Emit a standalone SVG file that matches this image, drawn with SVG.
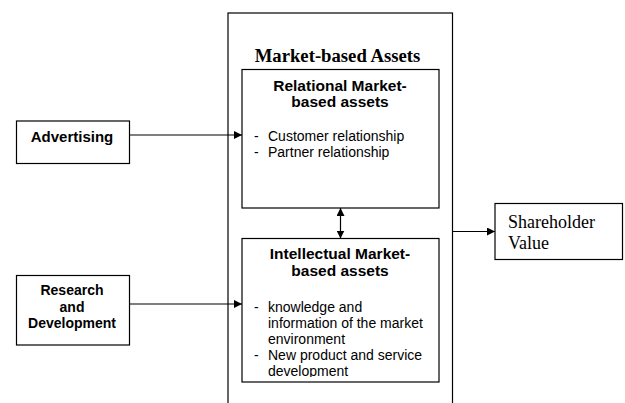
<svg xmlns="http://www.w3.org/2000/svg" width="625" height="403" viewBox="0 0 625 403">
<style>
.box{fill:#fff;stroke:#000;stroke-width:1.2}
.line{fill:none;stroke:#000;stroke-width:1.2}
.hd{font-family:"Liberation Sans",Arial,sans-serif;font-weight:bold;text-anchor:middle;fill:#000}
.tx{font-family:"Liberation Sans",Arial,sans-serif;font-size:14px;fill:#000}
.sr{font-family:"Liberation Serif","Times New Roman",serif;fill:#000}
</style>
<defs>
<marker id="ah" viewBox="0 0 10 10" refX="10" refY="5" markerWidth="8" markerHeight="8" markerUnits="userSpaceOnUse" orient="auto-start-reverse">
<path d="M0,0 L10,5 L0,10 z" fill="#000"/>
</marker>
<clipPath id="clipI"><rect x="242" y="238" width="197" height="139"/></clipPath>
</defs>
<rect width="625" height="403" fill="#fff"/>
<g id="market-based-assets">
<rect class="box" x="228" y="13" width="224.5" height="400"/>
<text class="sr" x="337.5" y="61.5" font-size="18.7" font-weight="bold" text-anchor="middle">Market-based Assets</text>
</g>
<g id="relational">
<rect class="box" x="242" y="69.5" width="197" height="138.5"/>
<text class="hd" font-size="15.5" x="340" y="91">Relational Market-</text>
<text class="hd" font-size="15.5" x="340" y="107">based assets</text>
<text class="tx" x="254" y="141">-</text>
<text class="tx" x="268" y="141">Customer relationship</text>
<text class="tx" x="254" y="157">-</text>
<text class="tx" x="268" y="157">Partner relationship</text>
</g>
<g id="intellectual">
<rect class="box" x="242" y="238.5" width="197" height="143.5"/>
<text class="hd" font-size="15.5" x="340" y="259">Intellectual Market-</text>
<text class="hd" font-size="15.5" x="340" y="276">based assets</text>
<g clip-path="url(#clipI)">
<text class="tx" x="254" y="312">-</text>
<text class="tx" x="268" y="312">knowledge and</text>
<text class="tx" x="268" y="328">information of the market</text>
<text class="tx" x="268" y="344">environment</text>
<text class="tx" x="254" y="360">-</text>
<text class="tx" x="268" y="360">New product and service</text>
<text class="tx" x="268" y="376">development</text>
</g>
</g>
<g id="advertising">
<rect class="box" x="16.5" y="121" width="113" height="42.5"/>
<text class="hd" font-size="15" x="72" y="141.5">Advertising</text>
</g>
<g id="research">
<rect class="box" x="16.5" y="275.5" width="113" height="69.5"/>
<text class="hd" font-size="14" x="72" y="295">Research</text>
<text class="hd" font-size="14" x="72" y="311.5">and</text>
<text class="hd" font-size="14" x="72" y="328">Development</text>
</g>
<g id="shareholder">
<rect class="box" x="495" y="203.5" width="127.5" height="56"/>
<text class="sr" font-size="18" x="508" y="227.5">Shareholder</text>
<text class="sr" font-size="18" x="508" y="248.5">Value</text>
</g>
<g id="connectors">
<line class="line" x1="129.5" y1="135" x2="242" y2="135" marker-end="url(#ah)"/>
<line class="line" x1="129.5" y1="304" x2="242" y2="304" marker-end="url(#ah)"/>
<line class="line" x1="452.5" y1="231.5" x2="495" y2="231.5" marker-end="url(#ah)"/>
<line class="line" x1="340.5" y1="208" x2="340.5" y2="238.5" marker-start="url(#ah)" marker-end="url(#ah)"/>
</g>
</svg>
